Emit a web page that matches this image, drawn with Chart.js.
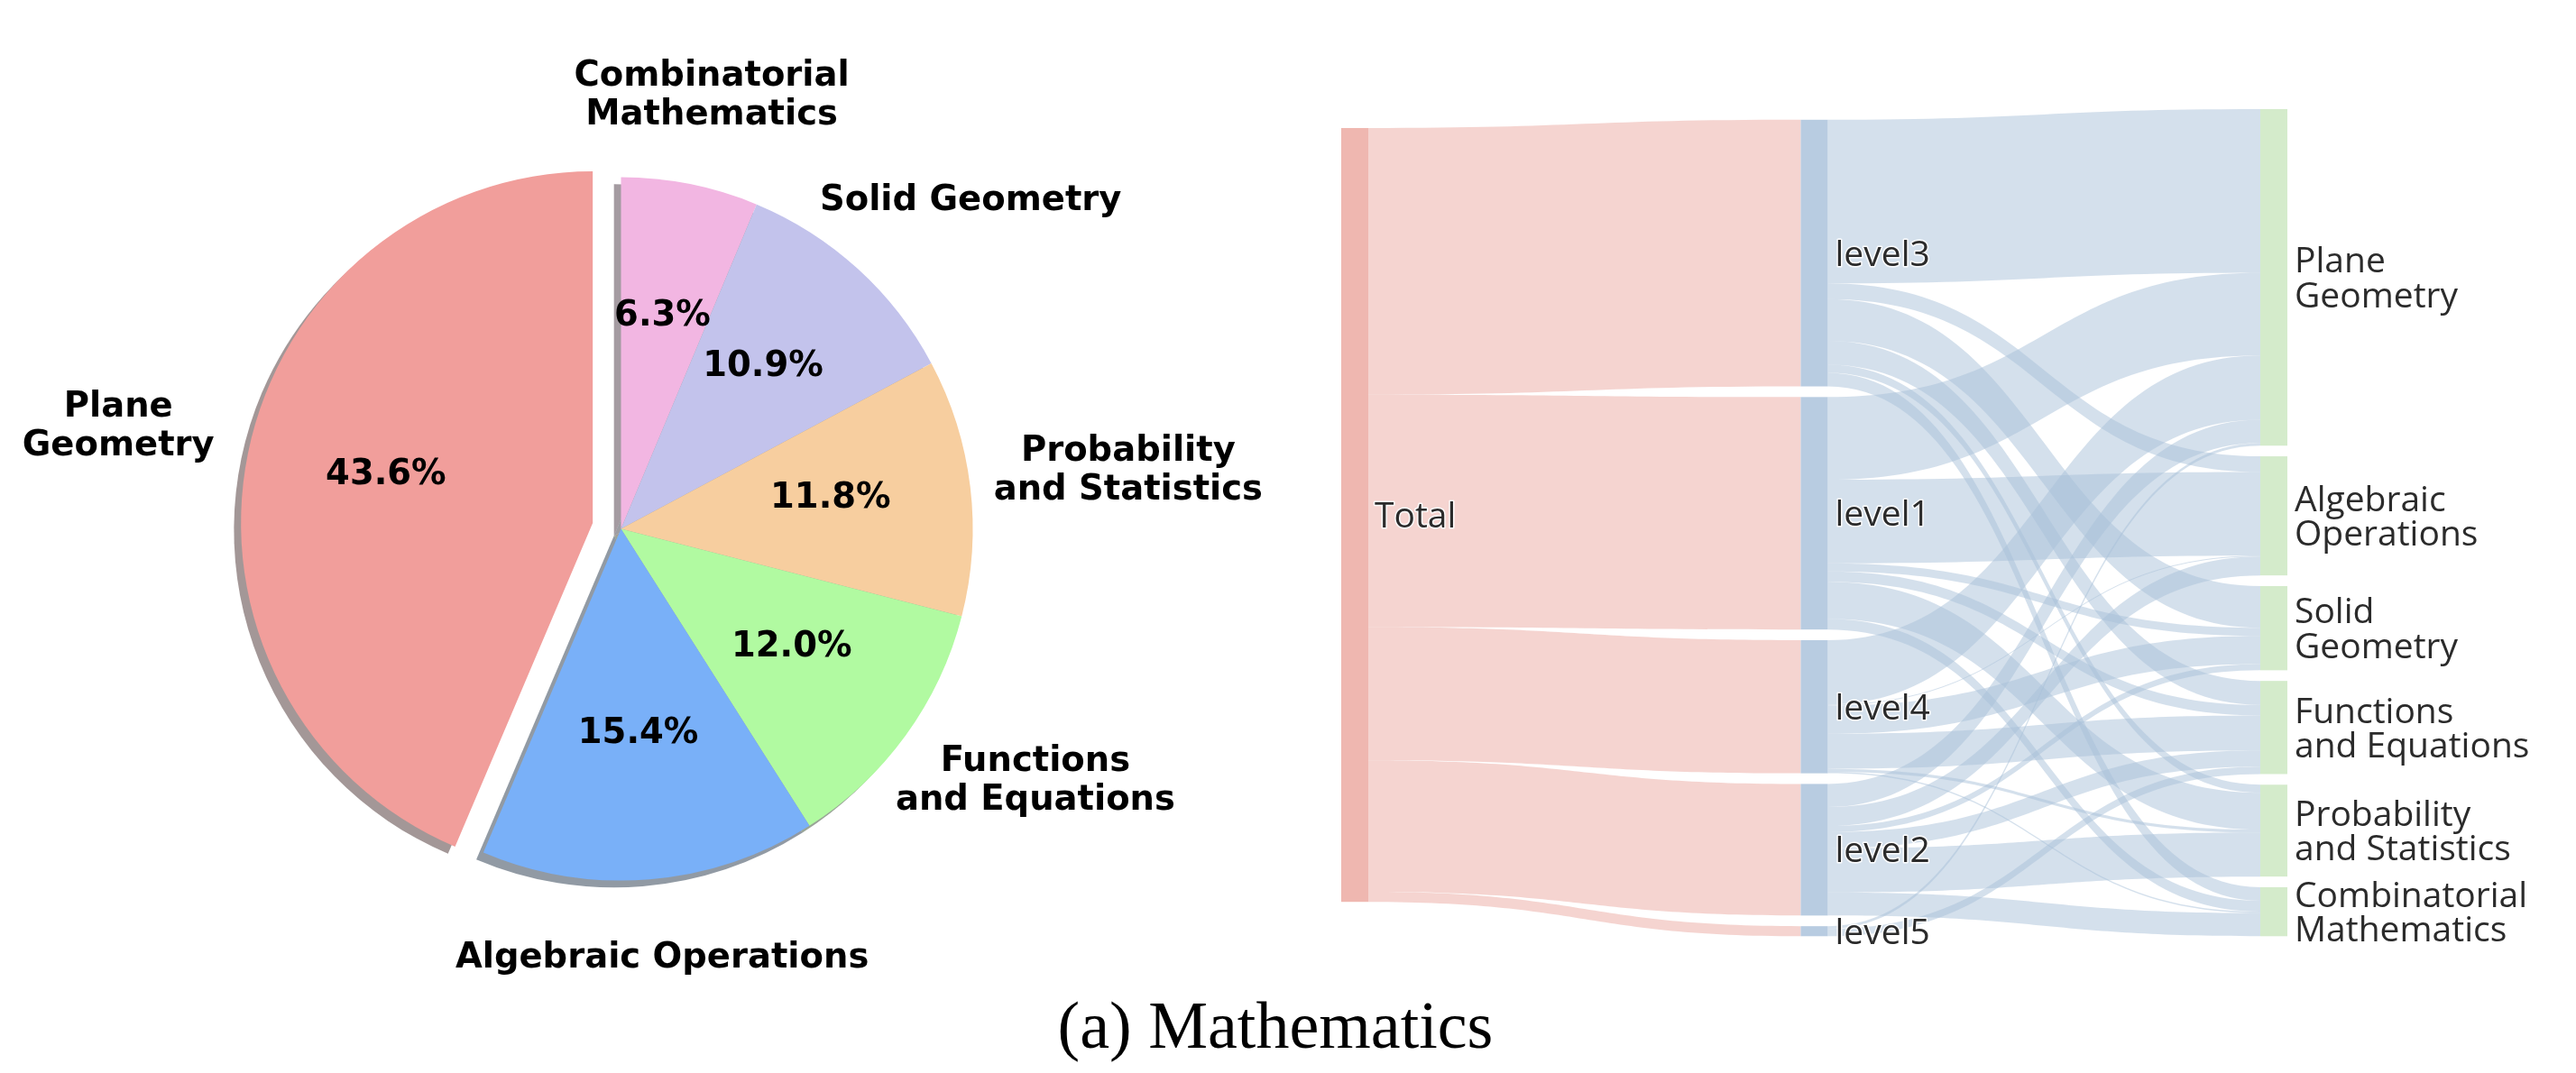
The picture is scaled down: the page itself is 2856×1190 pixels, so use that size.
<!DOCTYPE html>
<html><head><meta charset="utf-8">
<script src="https://cdn.jsdelivr.net/npm/chart.js@4.4.1/dist/chart.umd.min.js"></script>
<style>
html,body{margin:0;padding:0;background:#fff;width:2856px;height:1190px;overflow:hidden;}
#pie{position:absolute;left:0;top:0;}
#sankey{position:absolute;left:1400px;top:0;}
#caption{position:absolute;left:0;top:1100px;width:2828px;text-align:center;font:74px/74px "Liberation Serif","Times New Roman",serif;color:#000;}
</style></head><body>
<canvas id="pie" width="1500" height="1190"></canvas>
<canvas id="sankey" width="1456" height="1190"></canvas>
<div id="caption">(a) Mathematics</div>
<script>
// ---------- data ----------
const pieCategories = ['Combinatorial\nMathematics', 'Solid Geometry', 'Probability\nand Statistics',
  'Functions\nand Equations', 'Algebraic Operations', 'Plane\nGeometry'];
const pieValues = [6.3, 10.9, 11.8, 12.0, 15.4, 43.6];

const sourceLabel = 'Total';
const levels = ['level3', 'level1', 'level4', 'level2', 'level5'];
const categories = ['Plane\nGeometry', 'Algebraic\nOperations', 'Solid\nGeometry',
  'Functions\nand Equations', 'Probability\nand Statistics', 'Combinatorial\nMathematics'];
// flow (share of all problems, %) from each level to each category, in category order
const flowLevel3 = [21.2, 2.04, 5.4, 3.11, 1.05, 1.75];
const flowLevel1 = [10.71, 10.83, 1.05, 1.36, 4.77, 1.40];
const flowLevel4 = [8.35, 0.12, 3.65, 4.55, 0.38, 0.20];
const flowLevel2 = [3.0, 2.44, 0.81, 2.1, 5.7, 3.0];
const flowLevel5 = [0.35, 0, 0, 0.95, 0, 0];
const flows = [flowLevel3, flowLevel1, flowLevel4, flowLevel2, flowLevel5];

// ---------- style ----------
const pieColors = ['#F2B6E2', '#C3C3EC', '#F7CE9F', '#B1FAA1', '#79B0F8', '#F19E9B'];
const explode = [0, 0, 0, 0, 0, 0.082];
const pieRadius = 390;
const pieLabelPos = [[0.258, -1.232], [0.994, -0.932], [1.442, -0.163], [1.178, 0.717], [0.117, 1.222], [-1.429, -0.289]];
const pctDistance = 0.6;
const pctLift = -6;
const pieFont = 'bold 38.5px "DejaVu Sans"';
const shadowShift = 0.02;

function shadowOf(hex) {
  const n = parseInt(hex.slice(1), 16);
  const r = (n >> 16) & 255, g = (n >> 8) & 255, b = n & 255;
  return `rgba(${Math.round(r * 0.3)},${Math.round(g * 0.3)},${Math.round(b * 0.3)},0.5)`;
}

const pieDecor = {
  id: 'pieDecor',
  afterUpdate(chart) {
    const meta = chart.getDatasetMeta(0);
    meta.data.forEach((arc, i) => {
      const d = explode[i] * pieRadius;
      if (!d) return;
      const base = Object.getPrototypeOf(arc).draw;
      arc.draw = function (ctx, area) {
        const mid = (this.startAngle + this.endAngle) / 2;
        ctx.save();
        ctx.translate(Math.cos(mid) * d, Math.sin(mid) * d);
        base.call(this, ctx, area);
        ctx.restore();
      };
    });
  },
  beforeDatasetsDraw(chart) {
    const ctx = chart.ctx;
    const meta = chart.getDatasetMeta(0);
    const s = shadowShift * pieRadius;
    meta.data.forEach((arc, i) => {
      const p = arc.getProps(['x', 'y', 'startAngle', 'endAngle', 'outerRadius'], true);
      const mid = (p.startAngle + p.endAngle) / 2;
      const d = explode[i] * pieRadius;
      const cx = p.x + Math.cos(mid) * d - s, cy = p.y + Math.sin(mid) * d + s;
      ctx.beginPath();
      ctx.moveTo(cx, cy);
      ctx.arc(cx, cy, p.outerRadius, p.startAngle, p.endAngle);
      ctx.closePath();
      ctx.fillStyle = shadowOf(pieColors[i]);
      ctx.fill();
    });
  },
  afterDatasetsDraw(chart) {
    const ctx = chart.ctx;
    const meta = chart.getDatasetMeta(0);
    const total = pieValues.reduce((a, b) => a + b, 0);
    ctx.save();
    ctx.font = pieFont;
    ctx.fillStyle = '#000';
    ctx.textAlign = 'center';
    ctx.textBaseline = 'middle';
    meta.data.forEach((arc, i) => {
      const p = arc.getProps(['x', 'y', 'startAngle', 'endAngle', 'outerRadius'], true);
      const mid = (p.startAngle + p.endAngle) / 2;
      const d = explode[i] * pieRadius;
      const cx = p.x + Math.cos(mid) * d, cy = p.y + Math.sin(mid) * d;
      const r = p.outerRadius;
      ctx.fillText((pieValues[i] / total * 100).toFixed(1) + '%',
        cx + Math.cos(mid) * r * pctDistance, cy + Math.sin(mid) * r * pctDistance + pctLift);
      const lines = pieCategories[i].split('\n');
      const lx = p.x + pieLabelPos[i][0] * r, ly = p.y + pieLabelPos[i][1] * r;
      const lh = 43;
      lines.forEach((t, k) => ctx.fillText(t, lx, ly - (lines.length - 1) * lh / 2 + k * lh));
    });
    ctx.restore();
  }
};

new Chart(document.getElementById('pie'), {
  type: 'pie',
  data: {
    labels: pieCategories,
    datasets: [{ data: pieValues, backgroundColor: pieColors, borderWidth: 0, radius: pieRadius, hoverOffset: 0 }]
  },
  options: {
    responsive: false, animation: false, devicePixelRatio: 1,
    layout: { padding: { left: 0, right: 123, top: 0, bottom: 17 } },
    plugins: { legend: { display: false }, tooltip: { enabled: false } },
    events: []
  },
  plugins: [pieDecor]
});

// ---------- sankey ----------
const nodePad = 1.38;          // gap between nodes, in value units
const totalNodeTop = 2.45;     // vertical placement of the source column
const nodeWidth = 30;
const sankeyFont = '39px "Open Sans"';
const colors = {
  source: '#EFB7B0', level: '#B8CCE1', category: '#D4EBCB',
  sourceLink: 'rgba(235,169,161,0.5)', levelLink: 'rgba(169,193,217,0.5)'
};
const levelTotals = flows.map(f => f.reduce((a, b) => a + b, 0));
const categoryTotals = categories.map((_, j) => flows.reduce((a, f) => a + f[j], 0));
const grandTotal = levelTotals.reduce((a, b) => a + b, 0);
const yMax = grandTotal + (Math.max(levels.length, categories.length) - 1) * nodePad;

function linkPath(ctx, xs, ys0, ys1, xt, yt0, yt1, color) {
  const xm = (xs + xt) / 2;
  ctx.beginPath();
  ctx.moveTo(xs, ys0);
  ctx.bezierCurveTo(xm, ys0, xm, yt0, xt, yt0);
  ctx.lineTo(xt, yt1);
  ctx.bezierCurveTo(xm, yt1, xm, ys1, xs, ys1);
  ctx.closePath();
  ctx.fillStyle = color;
  ctx.fill();
}

function drawLabel(ctx, text, x, cy) {
  const lines = text.split('\n');
  const lh = 38.5, cap = 28;
  lines.forEach((t, k) => {
    const by = cy - (lines.length - 1) * lh / 2 + k * lh + cap / 2;
    ctx.strokeText(t, x, by);
    ctx.fillText(t, x, by);
  });
}

const sankeyPlugin = {
  id: 'sankey',
  beforeDatasetsDraw(chart) {
    const ctx = chart.ctx;
    const { x, y } = chart.scales;
    const colX = [x.getPixelForValue(0), x.getPixelForValue(1), x.getPixelForValue(2)];
    const levelTop = [];
    let t = yMax - (grandTotal + (levels.length - 1) * nodePad);
    levelTotals.forEach(v => { levelTop.push(t); t += v + nodePad; });
    const catTop = [];
    t = yMax - (grandTotal + (categories.length - 1) * nodePad);
    categoryTotals.forEach(v => { catTop.push(t); t += v + nodePad; });

    let sOff = totalNodeTop;
    levels.forEach((_, i) => {
      const v = levelTotals[i];
      linkPath(ctx, colX[0] + nodeWidth, y.getPixelForValue(sOff), y.getPixelForValue(sOff + v),
        colX[1], y.getPixelForValue(levelTop[i]), y.getPixelForValue(levelTop[i] + v), colors.sourceLink);
      sOff += v;
    });
    const catIn = catTop.slice();
    const srcOut = levelTop.slice();
    const segs = [];
    levels.forEach((_, i) => {
      categories.forEach((_, j) => {
        const v = flows[i][j];
        segs.push({ i, j, v, s0: srcOut[i] });
        srcOut[i] += v;
      });
    });
    categories.forEach((_, j) => {
      levels.forEach((_, i) => {
        const sg = segs.find(q => q.i === i && q.j === j);
        sg.t0 = catIn[j];
        catIn[j] += sg.v;
      });
    });
    segs.forEach(sg => {
      if (sg.v <= 0) return;
      linkPath(ctx, colX[1] + nodeWidth, y.getPixelForValue(sg.s0), y.getPixelForValue(sg.s0 + sg.v),
        colX[2], y.getPixelForValue(sg.t0), y.getPixelForValue(sg.t0 + sg.v), colors.levelLink);
    });

    const rect = (cx, top, v, color) => {
      const y0 = y.getPixelForValue(top), y1 = y.getPixelForValue(top + v);
      ctx.fillStyle = color;
      ctx.fillRect(cx, y0, nodeWidth, y1 - y0);
    };
    rect(colX[0], totalNodeTop, grandTotal, colors.source);
    levels.forEach((_, i) => rect(colX[1], levelTop[i], levelTotals[i], colors.level));
    categories.forEach((_, j) => rect(colX[2], catTop[j], categoryTotals[j], colors.category));

    ctx.save();
    ctx.font = sankeyFont;
    ctx.textAlign = 'left';
    ctx.textBaseline = 'alphabetic';
    ctx.fillStyle = '#2b2b2b';
    ctx.strokeStyle = 'rgba(255,255,255,0.9)';
    ctx.lineWidth = 3;
    ctx.lineJoin = 'round';
    const mid = (top, v) => (y.getPixelForValue(top) + y.getPixelForValue(top + v)) / 2;
    drawLabel(ctx, sourceLabel, colX[0] + nodeWidth + 7, mid(totalNodeTop, grandTotal));
    levels.forEach((l, i) => drawLabel(ctx, l, colX[1] + nodeWidth + 8, mid(levelTop[i], levelTotals[i])));
    categories.forEach((c, j) => drawLabel(ctx, c, colX[2] + nodeWidth + 8, mid(catTop[j], categoryTotals[j])));
    ctx.restore();
  }
};

new Chart(document.getElementById('sankey'), {
  type: 'scatter',
  data: { datasets: [{ data: [] }] },
  options: {
    responsive: false, animation: false, devicePixelRatio: 1,
    layout: { padding: { left: 87, right: 350, top: 121, bottom: 151.7 } },
    scales: {
      x: { type: 'linear', min: 0, max: 2, display: false },
      y: { type: 'linear', min: 0, max: yMax, reverse: true, display: false }
    },
    plugins: { legend: { display: false }, tooltip: { enabled: false } },
    events: []
  },
  plugins: [sankeyPlugin]
});
</script>
</body></html>
